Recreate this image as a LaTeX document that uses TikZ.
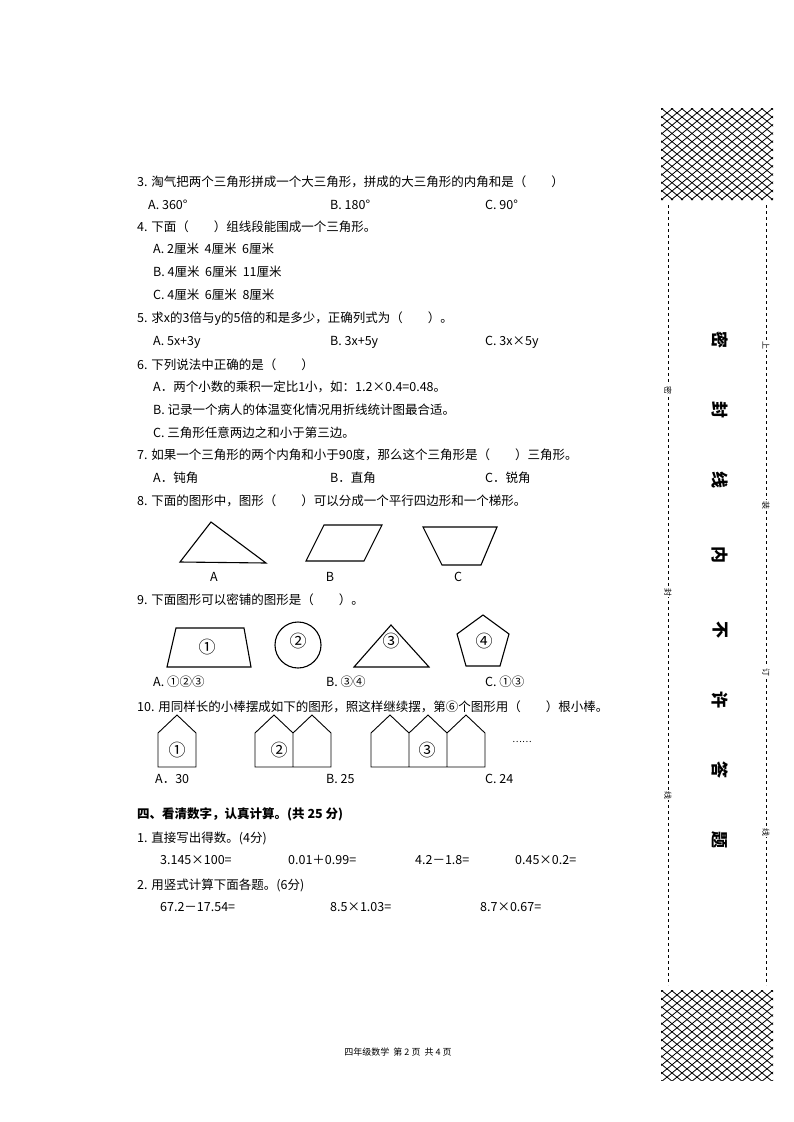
\documentclass[tikz,border=0pt]{standalone}
\usepackage{fontspec}
\setmainfont{Noto Sans CJK SC}
\begin{document}
\begin{tikzpicture}[x=1pt,y=-1pt,
  t/.style={anchor=west,inner sep=0pt,font=\fontsize{12.5}{14}\selectfont},
  cd/.style={inner sep=0pt,font=\fontsize{17}{18}\selectfont},
  sh/.style={line width=1.1pt},
  big/.style={inner sep=0pt,rotate=-90,font=\fontsize{17}{18}\selectfont\bfseries},
  sm/.style={inner sep=1pt,fill=white,rotate=-90,font=\fontsize{8}{9}\selectfont},
  dl/.style={dashed,line width=0.8pt}]
\useasboundingbox (0,0) rectangle (794,1122);
% questions
\node[t] (q3) at (137,182) {3. 淘气把两个三角形拼成一个大三角形，拼成的大三角形的内角和是（\quad\quad）};
\node[t] (q3a) at (148,205) {A. 360°};
\node[t] (q3b) at (330,205) {B. 180°};
\node[t] (q3c) at (485,205) {C. 90°};
\node[t] (q4) at (137,227) {4. 下面（\quad\quad）组线段能围成一个三角形。};
\node[t] (q4a) at (153,249) {A. 2厘米\ \ 4厘米\ \ 6厘米};
\node[t] (q4b) at (153,272) {B. 4厘米\ \ 6厘米\ \ 11厘米};
\node[t] (q4c) at (153,295) {C. 4厘米\ \ 6厘米\ \ 8厘米};
\node[t] (q5) at (137,319) {5. 求x的3倍与y的5倍的和是多少，正确列式为（\quad\quad）。};
\node[t] (q5a) at (153,342) {A. 5x+3y};
\node[t] (q5b) at (330,342) {B. 3x+5y};
\node[t] (q5c) at (485,342) {C. 3x×5y};
\node[t] (q6) at (137,365) {6. 下列说法中正确的是（\quad\quad）};
\node[t] (q6a) at (153,387) {A．两个小数的乘积一定比1小，如：1.2×0.4=0.48。};
\node[t] (q6b) at (153,410) {B. 记录一个病人的体温变化情况用折线统计图最合适。};
\node[t] (q6c) at (153,433) {C. 三角形任意两边之和小于第三边。};
\node[t] (q7) at (137,455) {7. 如果一个三角形的两个内角和小于90度，那么这个三角形是（\quad\quad）三角形。};
\node[t] (q7a) at (153,478) {A．钝角};
\node[t] (q7b) at (330,478) {B．直角};
\node[t] (q7c) at (485,478) {C．锐角};
\node[t] (q8) at (137,501) {8. 下面的图形中，图形（\quad\quad）可以分成一个平行四边形和一个梯形。};
\draw[sh] (180,562) -- (211,522) -- (266,563) -- cycle;
\draw[sh] (306,561) -- (324,525) -- (382,525) -- (364,561) -- cycle;
\draw[sh] (423,527) -- (497,527) -- (481,565) -- (442,565) -- cycle;
\node[t,anchor=center] (l8a) at (214,577) {A};
\node[t,anchor=center] (l8b) at (330,577) {B};
\node[t,anchor=center] (l8c) at (458,577) {C};
\node[t] (q9) at (137,600) {9. 下面图形可以密铺的图形是（\quad\quad）。};
\draw[sh] (167,667) -- (176,628) -- (244,628) -- (251,667) -- cycle;
\node[cd] (c1) at (207,647) {①};
\draw[sh] (298,645) circle (23);
\node[cd] (c2) at (298,641) {②};
\draw[sh] (354,667) -- (391,625) -- (429,667) -- cycle;
\node[cd] (c3) at (391,641) {③};
\draw[sh] (483,615) -- (509,634) -- (500,666) -- (466,666) -- (457,634) -- cycle;
\node[cd] (c4) at (484,641) {④};
\node[t] (q9a) at (153,682) {A. ①②③};
\node[t] (q9b) at (326,682) {B. ③④};
\node[t] (q9c) at (485,682) {C. ①③};
\node[t] (q10) at (137,707) {10. 用同样长的小棒摆成如下的图形，照这样继续摆，第⑥个图形用（\quad\quad）根小棒。};
\draw[line width=0.9pt] (158,767) -- (158,733) -- (177,715) -- (196,733) -- (196,767) -- cycle;
\node[cd] (h1) at (177,750) {①};
\draw[line width=0.9pt] (255,767) -- (255,733) -- (274,715) -- (293,733) -- (312,715) -- (331,733) -- (331,767) -- cycle (293,733) -- (293,767);
\node[cd] (h2) at (279,750) {②};
\draw[line width=0.9pt] (371,767) -- (371,733) -- (390,715) -- (409,733) -- (428,715) -- (447,733) -- (466,715) -- (485,733) -- (485,767) -- cycle (409,733) -- (409,767) (447,733) -- (447,767);
\node[cd] (h3) at (427,750) {③};
\node[t,anchor=center] (dots) at (522,742) {\fontsize{9}{9}\selectfont ……};
\node[t] (q10a) at (155,779) {A．30};
\node[t] (q10b) at (326,779) {B. 25};
\node[t] (q10c) at (485,779) {C. 24};
\node[t,font=\fontsize{12.5}{14}\selectfont\bfseries] (s4) at (137,814) {四、看清数字，认真计算。(共 25 分)};
\node[t] (p1) at (137,838) {1. 直接写出得数。(4分)};
\node[t] (e1) at (160,860) {3.145×100=};
\node[t] (e2) at (288,860) {0.01＋0.99=};
\node[t] (e3) at (415,860) {4.2－1.8=};
\node[t] (e4) at (515,860) {0.45×0.2=};
\node[t] (p2) at (137,885) {2. 用竖式计算下面各题。(6分)};
\node[t] (e5) at (160,907) {67.2－17.54=};
\node[t] (e6) at (330,907) {8.5×1.03=};
\node[t] (e7) at (480,907) {8.7×0.67=};
\node[inner sep=0pt,font=\fontsize{9}{10}\selectfont] (foot) at (398,1052) {四年级数学\ \ 第\ 2\ 页\ \ 共\ 4\ 页};
% side band hatches
\begin{scope}
\clip (661,108) rectangle (773,200);
\foreach \i in {-120,-110,...,120} {
  \draw[line width=0.8pt] (661+\i,108) -- ++(112,92);
  \draw[line width=0.8pt] (773-\i,108) -- ++(-112,92);}
\end{scope}
\begin{scope}
\clip (661,990) rectangle (773,1080);
\foreach \i in {-120,-110,...,120} {
  \draw[line width=0.8pt] (661+\i,990) -- ++(112,92);
  \draw[line width=0.8pt] (773-\i,990) -- ++(-112,92);}
\end{scope}
\coordinate (lt) at (668,205); \coordinate (lb) at (668,985);
\coordinate (rt) at (766,205); \coordinate (rb) at (766,985);
\draw[dl] (lt) -- (lb);
\draw[dl] (rt) -- (rb);
\node[sm] (m1) at (668,390) {密};
\node[sm] (m2) at (668,592) {封};
\node[sm] (m3) at (668,795) {线};
\node[sm] (r1) at (766,345) {上};
\node[sm] (r2) at (766,505) {装};
\node[sm] (r3) at (766,672) {订};
\node[sm] (r4) at (766,832) {线};
\foreach \c/\y [count=\k] in {密/340,封/410,线/480,内/555,不/630,许/700,答/770,题/840}
  \node[big] (b\k) at (720,\y) {\c};
\end{tikzpicture}
\end{document}
